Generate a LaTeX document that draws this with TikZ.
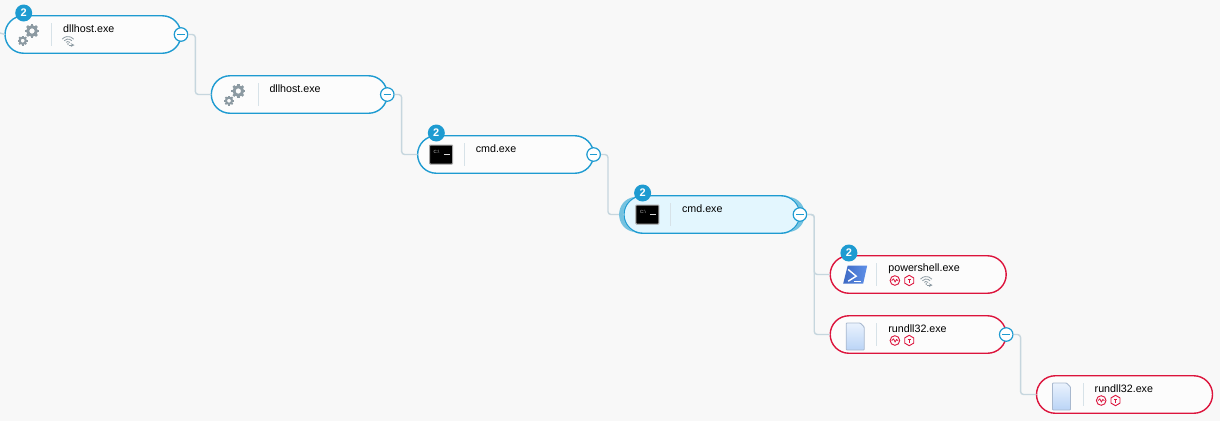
\documentclass[tikz,border=0pt]{standalone}
\usepackage{fontspec}
\setmainfont{Liberation Sans}
\usetikzlibrary{positioning,shapes.misc}
\definecolor{pageback}{HTML}{F8F8F8}
\definecolor{procblue}{HTML}{1E9BD1}
\definecolor{procred}{HTML}{DC143C}
\definecolor{linkgrey}{HTML}{C6D6DE}
\definecolor{icongrey}{HTML}{8C9AA2}
\definecolor{glowblue}{HTML}{74C2E0}
\definecolor{openblue}{HTML}{E3F6FE}
\definecolor{shelldark}{HTML}{3E6AC4}
\definecolor{shelllight}{HTML}{5F90E8}
\definecolor{filetop}{HTML}{EAF2FD}
\definecolor{filebottom}{HTML}{BAD4F6}
\definecolor{fileedge}{HTML}{A8B8CE}
\tikzset{
  proc/.style={rounded rectangle,draw=procblue,line width=1.4pt,fill=white!60!pageback,
    minimum width=176pt,minimum height=37.5pt,inner sep=0pt,outer sep=0pt},
  procalert/.style={proc,draw=procred},
  procopen/.style={proc,fill=openblue},
  proctext/.style={anchor=west,inner sep=0pt,font=\fontsize{10.7}{12}\selectfont},
  badge/.style={circle,fill=procblue,text=white,inner sep=0pt,minimum size=17pt,
    font=\fontsize{11}{11}\selectfont\bfseries},
  toggle/.style={circle,draw=procblue,fill=white,line width=1.2pt,inner sep=0pt,minimum size=13.5pt,
    path picture={\draw[procblue,line width=1.2pt] (-3.8pt,0pt) -- (3.8pt,0pt);}},
  link/.style={draw=linkgrey,line width=1.4pt,rounded corners=3pt},
  divider/.style={draw=linkgrey!70,line width=1pt},
  pics/glow/.style={code={
    \fill[glowblue,xscale=#1] (-77.2,17.6) arc[start angle=115,end angle=245,radius=19.4]
      .. controls (-98,-15) and (-98,15) .. cycle;
  }},
  pics/gear/.style={code={
    \draw[icongrey,line width=0.42*#1] (0,0) circle (0.62*#1);
    \foreach \a in {0,45,...,315}
      \draw[icongrey,line width=0.36*#1,rotate=\a] (0.7*#1,0) -- (#1,0);
  }},
  pics/cmdicon/.style={code={
    \draw[draw=gray!70,fill=black,line width=1pt,rounded corners=0.8pt] (-11.5,-9.5) rectangle (11.5,9.5);
    \node[text=white!80!black,inner sep=0pt,font=\fontsize{4.5}{5}\selectfont] at (-4.5,2.8) {C:\textbackslash};
    \draw[white!85!black,line width=0.8pt] (2.8,0.5) -- (8.8,0.5);
  }},
  pics/shellicon/.style={code={
    \shade[left color=shelldark,right color=shelllight]
      (-7.5,9) -- (12,9) -- (8,-9) -- (-12,-9) -- cycle;
    \draw[white,line width=1.4pt] (-7,5) -- (1,-1.7) -- (-7,-6.7);
    \draw[white,line width=1.2pt] (-1.3,-6.7) -- (5.3,-6.7);
  }},
  pics/fileicon/.style={code={
    \shade[top color=filetop,bottom color=filebottom,rounded corners=0.8pt]
      (-9,13.5) -- (5,13.5) -- (9,9.5) -- (9,-13.5) -- (-9,-13.5) -- cycle;
    \draw[fileedge,line width=0.9pt,rounded corners=0.8pt] (-9,13.5) -- (5,13.5) -- (9,9.5) -- (9,-13.5) -- (-9,-13.5) -- cycle;
  }},
  pics/wifi/.style={code={
    \foreach \r in {2.5,5,7.5}
      \draw[icongrey,line width=0.8pt] (0,-3.5)++(40:\r) arc[start angle=40,end angle=140,radius=\r];
    \fill[icongrey] (0,-3.5) circle (0.8);
    \draw[icongrey,line width=0.7pt,->,>=stealth] (0.5,-4.6) -- (6.5,-4.6);
  }},
  pics/waveicon/.style={code={
    \draw[procred,line width=0.9pt] (0,0) circle (4.8);
    \draw[procred,line width=0.8pt] (-3.2,0) -- (-1.4,1.6) -- (0.2,-1.4) -- (1.6,1) -- (3.2,-0.2);
  }},
  pics/hexicon/.style={code={
    \draw[procred,line width=0.9pt] (90:5.2) -- (30:5.2) -- (-30:5.2) -- (-90:5.2) -- (-150:5.2) -- (150:5.2) -- cycle;
    \draw[procred,line width=0.7pt] (-1.5,1.5) -- (1.5,1.5) (0,1.5) -- (0,-2);
  }}
}
\begin{document}
\begin{tikzpicture}[x=1pt,y=1pt,on grid]
\useasboundingbox (0,0) rectangle (1220,-421);
\fill[pageback] (0,0) rectangle (1220,-421);
\coordinate (start) at (0,-33);
\node (A) [proc] at (93,-34.5) {};
\node (B) [proc,below right=60pt and 206.3pt of A] {};
\node (C) [proc,below right=60pt and 206.3pt of B] {};
\node (D) [procopen,below right=60pt and 206.3pt of C] {};
\node (E) [procalert,below right=60pt and 206.3pt of D] {};
\node (F) [procalert,below=60pt of E] {};
\node (G) [procalert,below right=60pt and 206.3pt of F] {};
\foreach \n in {A,B,C,D,E,F,G}
  \draw[divider] ([shift={(-41.3,11.5)}]\n.center) -- ([shift={(-41.3,-11.5)}]\n.center);
\node (textA) [proctext] at ([shift={(-30,5.5)}]A.center) {dllhost.exe};
\node (textB) [proctext] at ([shift={(-30,5.5)}]B.center) {dllhost.exe};
\node (textC) [proctext] at ([shift={(-30,5.5)}]C.center) {cmd.exe};
\node (textD) [proctext] at ([shift={(-30,5.5)}]D.center) {cmd.exe};
\node (textE) [proctext] at ([shift={(-30,5.5)}]E.center) {powershell.exe};
\node (textF) [proctext] at ([shift={(-30,5.5)}]F.center) {rundll32.exe};
\node (textG) [proctext] at ([shift={(-30,5.5)}]G.center) {rundll32.exe};
\path (D.center) pic {glow=-1};
\node (toggleA) [toggle] at (A.east) {};
\node (toggleB) [toggle] at (B.east) {};
\node (toggleC) [toggle] at (C.east) {};
\node (toggleD) [toggle] at (D.east) {};
\node (toggleF) [toggle] at (F.east) {};
\node (badgeA) [badge] at ([shift={(-69.3,21.5)}]A.center) {2};
\node (badgeC) [badge] at ([shift={(-69.3,21.5)}]C.center) {2};
\node (badgeD) [badge] at ([shift={(-69.3,21.5)}]D.center) {2};
\node (badgeE) [badge] at ([shift={(-69.3,21.5)}]E.center) {2};
\draw[link] (start) -- (A.west);
\draw[link] (toggleA.east) -- ++(7,0) |- (B.west);
\draw[link] (toggleB.east) -- ++(7,0) |- (C.west);
\draw[link] (toggleC.east) -- ++(7,0) |- (D.west);
\draw[link] (toggleD.east) -- ++(7,0) |- (E.west);
\draw[link] (toggleD.east) -- ++(7,0) |- (F.west);
\draw[link] (toggleF.east) -- ++(7,0) |- (G.west);
\path (D.center) pic {glow=1};
\path ([shift={(-61,3.5)}]A.center) pic {gear=7} ([shift={(-70.3,-6.2)}]A.center) pic {gear=5};
\path ([shift={(-61,3.5)}]B.center) pic {gear=7} ([shift={(-70.3,-6.2)}]B.center) pic {gear=5};
\path ([shift={(-64.5,0)}]C.center) pic {cmdicon};
\path ([shift={(-64.5,0)}]D.center) pic {cmdicon};
\path ([shift={(-63,0)}]E.center) pic {shellicon};
\path ([shift={(-63,-2)}]F.center) pic {fileicon};
\path ([shift={(-63,-2)}]G.center) pic {fileicon};
\path ([shift={(-25,-6)}]A.center) pic {wifi};
\path ([shift={(-23.3,-6)}]E.center) pic {waveicon} ([shift={(-9,-6)}]E.center) pic {hexicon} ([shift={(8,-6)}]E.center) pic {wifi};
\path ([shift={(-23.3,-6)}]F.center) pic {waveicon} ([shift={(-9,-6)}]F.center) pic {hexicon};
\path ([shift={(-23.3,-6)}]G.center) pic {waveicon} ([shift={(-9,-6)}]G.center) pic {hexicon};
\end{tikzpicture}
\end{document}
